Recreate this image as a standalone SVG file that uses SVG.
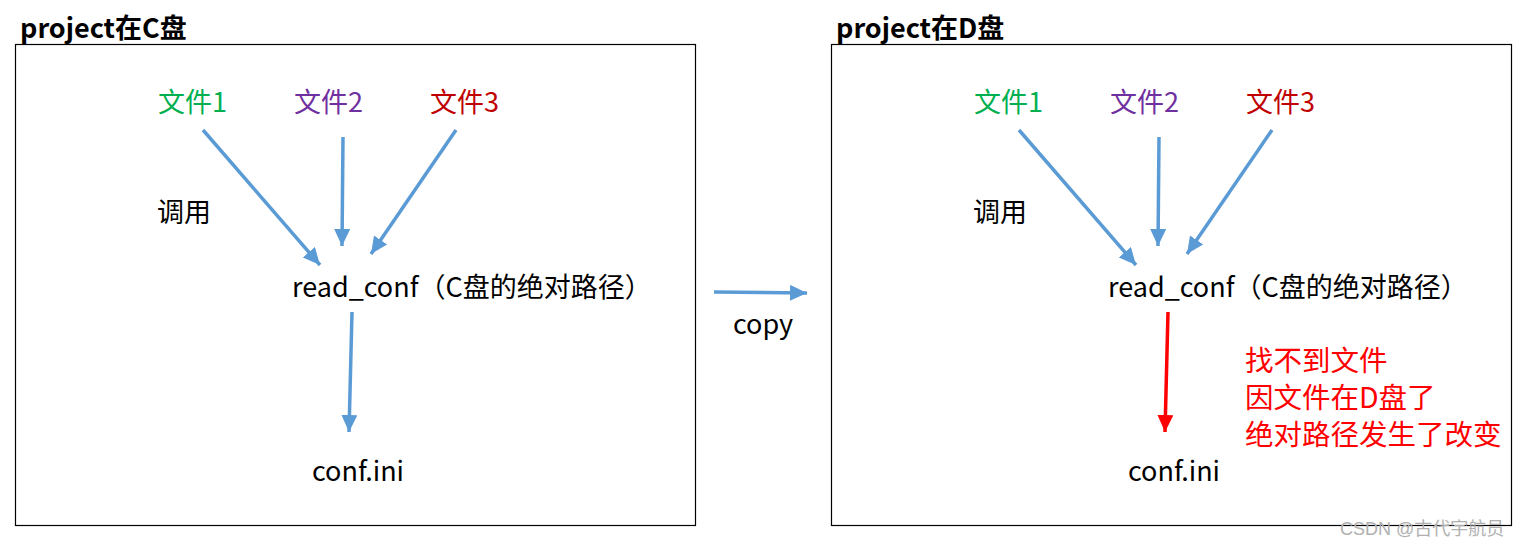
<svg xmlns="http://www.w3.org/2000/svg" width="1528" height="547" viewBox="0 0 1528 547">
<style>
text{font-family:"Noto Sans CJK SC","Liberation Sans",sans-serif;font-size:27px;fill:#000}
.t{font-weight:bold;font-size:27px}
.g{fill:#00B050}.p{fill:#7030A0}.r{fill:#C00000}
.red{fill:#FF0000;font-size:28.5px}
.box{fill:#fff;stroke:#000;stroke-width:1.2}
.b{stroke:#5B9BD5;stroke-width:3.5;fill:none;marker-end:url(#ab)}
.rl{stroke:#FF0000;stroke-width:3.5;fill:none;marker-end:url(#ar)}
.wm{fill:#b0b0b0;font-size:18px;font-family:"Liberation Sans","Noto Sans CJK SC",sans-serif}
</style>
<defs>
<marker id="ab" markerUnits="userSpaceOnUse" markerWidth="22" markerHeight="22" refX="17" refY="8" orient="auto"><path d="M0,0 L17,8 L0,16 Z" fill="#5B9BD5"/></marker>
<marker id="ar" markerUnits="userSpaceOnUse" markerWidth="22" markerHeight="22" refX="17" refY="8" orient="auto"><path d="M0,0 L17,8 L0,16 Z" fill="#FF0000"/></marker>
</defs>
<rect width="1528" height="547" fill="#fff"/>
<g id="left">
<rect class="box" x="15.5" y="44.5" width="680" height="481"/>
<text class="t" x="20" y="38">project在C盘</text>
</g>
<g id="right">
<rect class="box" x="831.5" y="44.5" width="680" height="481"/>
<text class="t" x="836" y="38">project在D盘</text>
</g>
<g id="L-f1"><text class="g" x="158" y="112">文件1</text></g>
<g id="L-f2"><text class="p" x="294" y="112">文件2</text></g>
<g id="L-f3"><text class="r" x="430" y="112">文件3</text></g>
<g id="L-call"><text x="157" y="222">调用</text></g>
<g id="L-read"><text x="292" y="297">read_conf（C盘的绝对路径）</text></g>
<g id="L-conf"><text x="312" y="481">conf.ini</text></g>
<g id="copy"><text x="733" y="334">copy</text></g>
<g id="R-f1"><text class="g" x="974" y="112">文件1</text></g>
<g id="R-f2"><text class="p" x="1110" y="112">文件2</text></g>
<g id="R-f3"><text class="r" x="1246" y="112">文件3</text></g>
<g id="R-call"><text x="973" y="222">调用</text></g>
<g id="R-read"><text x="1108" y="297">read_conf（C盘的绝对路径）</text></g>
<g id="R-conf"><text x="1128" y="481">conf.ini</text></g>
<g id="R-note">
<text class="red" x="1245" y="371">找不到文件</text>
<text class="red" x="1245" y="408">因文件在D盘了</text>
<text class="red" x="1245" y="445">绝对路径发生了改变</text>
</g>
<g id="connectors">
<line class="b" x1="203" y1="130" x2="320" y2="265"/>
<line class="b" x1="343" y1="137" x2="342" y2="246"/>
<line class="b" x1="456" y1="130" x2="371" y2="254"/>
<line class="b" x1="352" y1="312" x2="349" y2="432"/>
<line class="b" x1="714" y1="292" x2="807" y2="293"/>
<line class="b" x1="1019" y1="130" x2="1136" y2="265"/>
<line class="b" x1="1159" y1="137" x2="1158" y2="246"/>
<line class="b" x1="1272" y1="130" x2="1187" y2="254"/>
<line class="rl" x1="1168" y1="312" x2="1165" y2="432"/>
</g>
<text class="wm" x="1340" y="535">CSDN @古代宇航员</text>
</svg>
